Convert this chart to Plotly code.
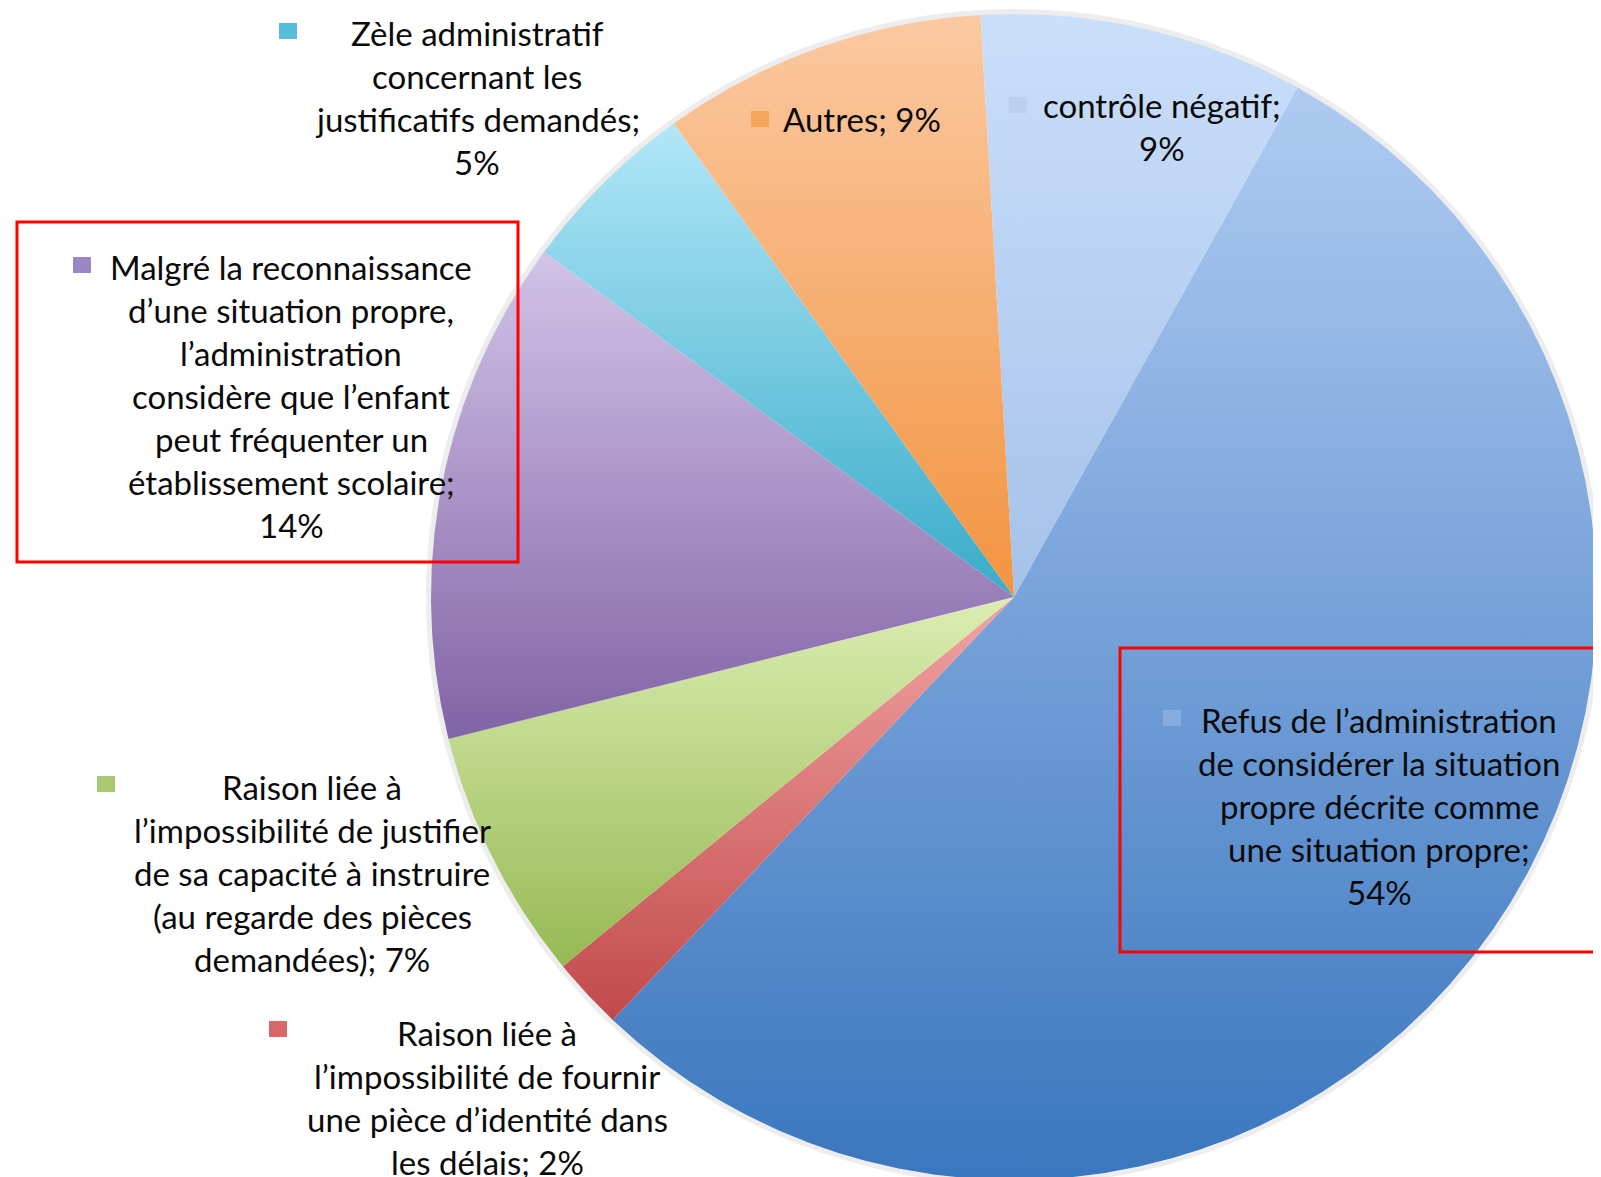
import numpy as np
import plotly.graph_objects as go

# ---------------- data ----------------
categories = [
    "contrôle négatif",
    "Refus de l’administration de considérer la situation propre décrite comme une situation propre",
    "Raison liée à l’impossibilité de fournir une pièce d’identité dans les délais",
    "Raison liée à l’impossibilité de justifier de sa capacité à instruire (au regarde des pièces demandées)",
    "Malgré la reconnaissance d’une situation propre, l’administration considère que l’enfant peut fréquenter un établissement scolaire",
    "Zèle administratif concernant les justificatifs demandés",
    "Autres",
]
values = [9, 54, 2, 7, 14, 5, 9]

label_lines = [
    ["contrôle négatif;", "9%"],
    ["Refus de l’administration", "de considérer la situation", "propre décrite comme", "une situation propre;", "54%"],
    ["Raison liée à", "l’impossibilité de fournir", "une pièce d’identité dans", "les délais; 2%"],
    ["Raison liée à", "l’impossibilité de justifier", "de sa capacité à instruire", "(au regarde des pièces", "demandées); 7%"],
    ["Malgré la reconnaissance", "d’une situation propre,", "l’administration", "considère que l’enfant",
     "peut fréquenter un", "établissement scolaire;", "14%"],
    ["Zèle administratif", "concernant les", "justificatifs demandés;", "5%"],
    ["Autres; 9%"],
]

# ---------------- styles ----------------
W, H = 1601, 1177
OFF = 8            # page body margin compensation
CX, CY, R = 1014, 597, 583
START_DEG = -3.3   # clockwise from 12 o'clock

grad_top = ["#cadffa", "#afcbf2", "#f2a4a4", "#dcedb2", "#d2c4e8", "#b2e7f8", "#fbc9a2"]
grad_bot = ["#a6c2ea", "#3a76be", "#c2494a", "#96b953", "#8263a6", "#38abc9", "#f29440"]
key_col = ["#b9d0ef", "#86abde", "#d86868", "#a9c872", "#9c86c4", "#55bcda", "#f5a45c"]

# label placement (pixel layout): text centre x, first line y, key square centre
label_cx = [1162, 1379, 487, 312, 291, 477, 862]
label_y0 = [105, 720, 1033, 787, 267, 33, 119]
key_xy = [(1018, 105), (1172, 718), (278, 1029), (106, 784), (82, 265), (288, 31), (760, 119)]
LINE_H = 43

FONT = "Lato, 'Open Sans', sans-serif"
FSIZE = 33

fig = go.Figure()

# soft shadow ring
fig.add_shape(type="circle", x0=CX - R - 2, x1=CX + R + 2, y0=CY - R - 2, y1=CY + R + 2,
              line=dict(color="rgba(0,0,0,0.07)", width=6), fillcolor="rgba(0,0,0,0)", layer="below")

total = float(sum(values))
cum = START_DEG
for i, v in enumerate(values):
    a0 = cum
    a1 = cum + 360.0 * v / total
    cum = a1
    n = max(4, int(abs(a1 - a0) * 3))
    th = np.radians(np.linspace(a0, a1, n))
    xs = np.concatenate([[CX], CX + R * np.sin(th), [CX]])
    ys = np.concatenate([[CY], CY - R * np.cos(th), [CY]])
    fig.add_trace(go.Scatter(
        x=xs, y=ys, mode="lines", fill="toself",
        line=dict(width=0, color=grad_bot[i]),
        fillgradient=dict(type="vertical",
                          colorscale=[[0, grad_top[i]], [1, grad_bot[i]]],
                          start=float(ys.min()), stop=float(ys.max())),
        name=categories[i], hoverinfo="name", showlegend=False,
    ))

# labels
for i, lines in enumerate(label_lines):
    for j, line in enumerate(lines):
        fig.add_annotation(x=label_cx[i], y=label_y0[i] + j * LINE_H, text=line,
                           showarrow=False, xanchor="center", yanchor="middle",
                           font=dict(family=FONT, size=FSIZE, color="#0a0a0a"))
    kx, ky = key_xy[i]
    fig.add_shape(type="rect", x0=kx - 9, x1=kx + 9, y0=ky - 8, y1=ky + 8,
                  line=dict(width=0), fillcolor=key_col[i])

# red highlight boxes
fig.add_shape(type="rect", x0=17, x1=518, y0=222, y1=562, line=dict(color="#ff0000", width=3))
fig.add_shape(type="rect", x0=1120, x1=1640, y0=648, y1=952, line=dict(color="#ff0000", width=3))

fig.update_layout(
    width=W, height=H,
    margin=dict(l=0, r=0, t=0, b=0),
    paper_bgcolor="white", plot_bgcolor="white",
    xaxis=dict(range=[OFF, W + OFF], visible=False, fixedrange=True),
    yaxis=dict(range=[H + OFF, OFF], visible=False, fixedrange=True),
)

fig.write_html("out.html")
